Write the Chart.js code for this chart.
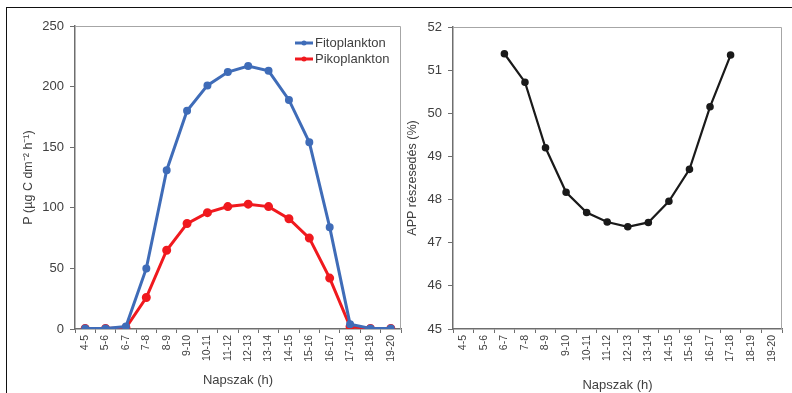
<!DOCTYPE html>
<html>
<head>
<meta charset="utf-8">
<script src="https://cdn.jsdelivr.net/npm/chart.js@4.4.0/dist/chart.umd.min.js"></script>
<style>
    html, body { margin: 0; padding: 0; background: #fff; }
    body { width: 792px; height: 393px; position: relative; overflow: hidden; }
    .frame { position: absolute; left: 6px; top: 7px; width: 800px; height: 400px;
             border-top: 1.5px solid #111; border-left: 1.5px solid #111; }
    .box { position: absolute; top: 0; height: 393px; }
    #leftBox { left: 0; width: 404px; }
    #rightBox { left: 404px; width: 388px; }
</style>
</head>
<body>
<div class="frame"></div>
<div class="box" id="leftBox"><canvas id="prodChart"></canvas></div>
<div class="box" id="rightBox"><canvas id="appChart"></canvas></div>
<script>
const hours = ['4-5', '5-6', '6-7', '7-8', '8-9', '9-10', '10-11', '11-12', '12-13',
    '13-14', '14-15', '15-16', '16-17', '17-18', '18-19', '19-20'];
const fitoplankton = [0.5, 0.5, 2, 50, 131, 180, 201, 212, 217, 213, 189, 154, 84, 4, 0.5, 0.5];
const pikoplankton = [0.5, 0.5, 1, 26, 65, 87, 96, 101, 103, 101, 91, 75, 42, 2, 0.5, 0.5];
const appShare = [null, null, 51.38, 50.72, 49.2, 48.17, 47.7, 47.48, 47.37, 47.47, 47.96, 48.7, 50.15, 51.35, null, null];
const prodTicks = [0, 50, 100, 150, 200, 250];
const appTicks = [45, 46, 47, 48, 49, 50, 51, 52];

const FONT = "'Liberation Sans', Arial, sans-serif";
const TEXT = '#404040';
const AXIS = '#6e6e6e';

Chart.defaults.font.family = FONT;
Chart.defaults.color = TEXT;
Chart.defaults.animation = false;

// top and right edge of the plot area (Excel style)
const plotBorder = {
    id: 'plotBorder',
    afterDraw(chart) {
        const { ctx, chartArea } = chart;
        ctx.save();
        ctx.strokeStyle = '#a6a6a6';
        ctx.lineWidth = 1;
        ctx.beginPath();
        ctx.moveTo(chartArea.left, chartArea.top + 0.5);
        ctx.lineTo(chartArea.right - 0.5, chartArea.top + 0.5);
        ctx.lineTo(chartArea.right - 0.5, chartArea.bottom);
        ctx.stroke();
        ctx.restore();
    }
};

// legend drawn inside the plot area, top right
const innerLegend = {
    id: 'innerLegend',
    afterDraw(chart) {
        const { ctx, chartArea } = chart;
        const x0 = chartArea.right - 106;
        ctx.save();
        ctx.font = '13px ' + FONT;
        ctx.textBaseline = 'middle';
        chart.data.datasets.forEach((ds, i) => {
            const y = chartArea.top + 17 + i * 16;
            ctx.strokeStyle = ds.borderColor;
            ctx.lineWidth = 3;
            ctx.beginPath();
            ctx.moveTo(x0, y);
            ctx.lineTo(x0 + 18, y);
            ctx.stroke();
            ctx.fillStyle = ds.borderColor;
            ctx.beginPath();
            ctx.arc(x0 + 9, y, 2.5, 0, Math.PI * 2);
            ctx.fill();
            ctx.fillStyle = TEXT;
            ctx.fillText(ds.label, x0 + 20, y);
        });
        ctx.restore();
    }
};

const xScale = (titlePadBottom) => ({
    type: 'category',
    offset: true,
    grid: { offset: true, drawOnChartArea: false, drawTicks: true, tickLength: 4, color: AXIS },
    border: { color: AXIS, width: 1.5 },
    ticks: { minRotation: 90, maxRotation: 90, autoSkip: false, padding: 2, font: { size: 10.5 }, color: TEXT },
    title: { display: true, text: 'Napszak (h)', font: { size: 13 }, color: TEXT, padding: { top: 0, bottom: titlePadBottom } },
    afterFit(scale) {
        scale.height = 64;
        scale.paddingLeft = 0;
        scale.paddingRight = 0;
    }
});

const yScale = (values, title, width, titlePadTop) => ({
    min: values[0],
    max: values[values.length - 1],
    afterBuildTicks(scale) { scale.ticks = values.map((v) => ({ value: v })); },
    grid: { drawOnChartArea: false, drawTicks: true, tickLength: 5, color: AXIS },
    border: { color: AXIS, width: 1.5 },
    ticks: { padding: 6, font: { size: 13 }, color: TEXT },
    title: { display: true, text: title, font: { size: 12.5 }, color: TEXT, padding: { top: titlePadTop, bottom: 0 } },
    afterFit(scale) { scale.width = width; }
});

new Chart(document.getElementById('prodChart'), {
    type: 'line',
    data: {
        labels: hours,
        datasets: [
            {
                label: 'Fitoplankton',
                data: fitoplankton,
                borderColor: '#3f6cb8',
                backgroundColor: '#3f6cb8',
                borderWidth: 3,
                pointRadius: 2.5,
                tension: 0
            },
            {
                label: 'Pikoplankton',
                data: pikoplankton,
                borderColor: '#f0191e',
                backgroundColor: '#f0191e',
                borderWidth: 3,
                pointRadius: 3,
                tension: 0
            }
        ]
    },
    options: {
        responsive: true,
        maintainAspectRatio: false,
        layout: { autoPadding: false, padding: { top: 26, right: 3, bottom: 0, left: 0 } },
        plugins: { legend: { display: false }, tooltip: { enabled: false } },
        scales: {
            x: xScale(5),
            y: yScale(prodTicks, 'P (µg C dm⁻² h⁻¹)', 75, 21)
        }
    },
    plugins: [plotBorder, innerLegend]
});

new Chart(document.getElementById('appChart'), {
    type: 'line',
    data: {
        labels: hours,
        datasets: [
            {
                label: 'APP részesedés',
                data: appShare,
                borderColor: '#1a1a1a',
                backgroundColor: '#1a1a1a',
                borderWidth: 2.2,
                pointRadius: 2.7,
                tension: 0
            }
        ]
    },
    options: {
        responsive: true,
        maintainAspectRatio: false,
        layout: { autoPadding: false, padding: { top: 27, right: 10, bottom: 0, left: 0 } },
        plugins: { legend: { display: false }, tooltip: { enabled: false } },
        scales: {
            x: xScale(0),
            y: yScale(appTicks, 'APP részesedés (%)', 49, 1)
        }
    },
    plugins: [plotBorder]
});
</script>
</body>
</html>
